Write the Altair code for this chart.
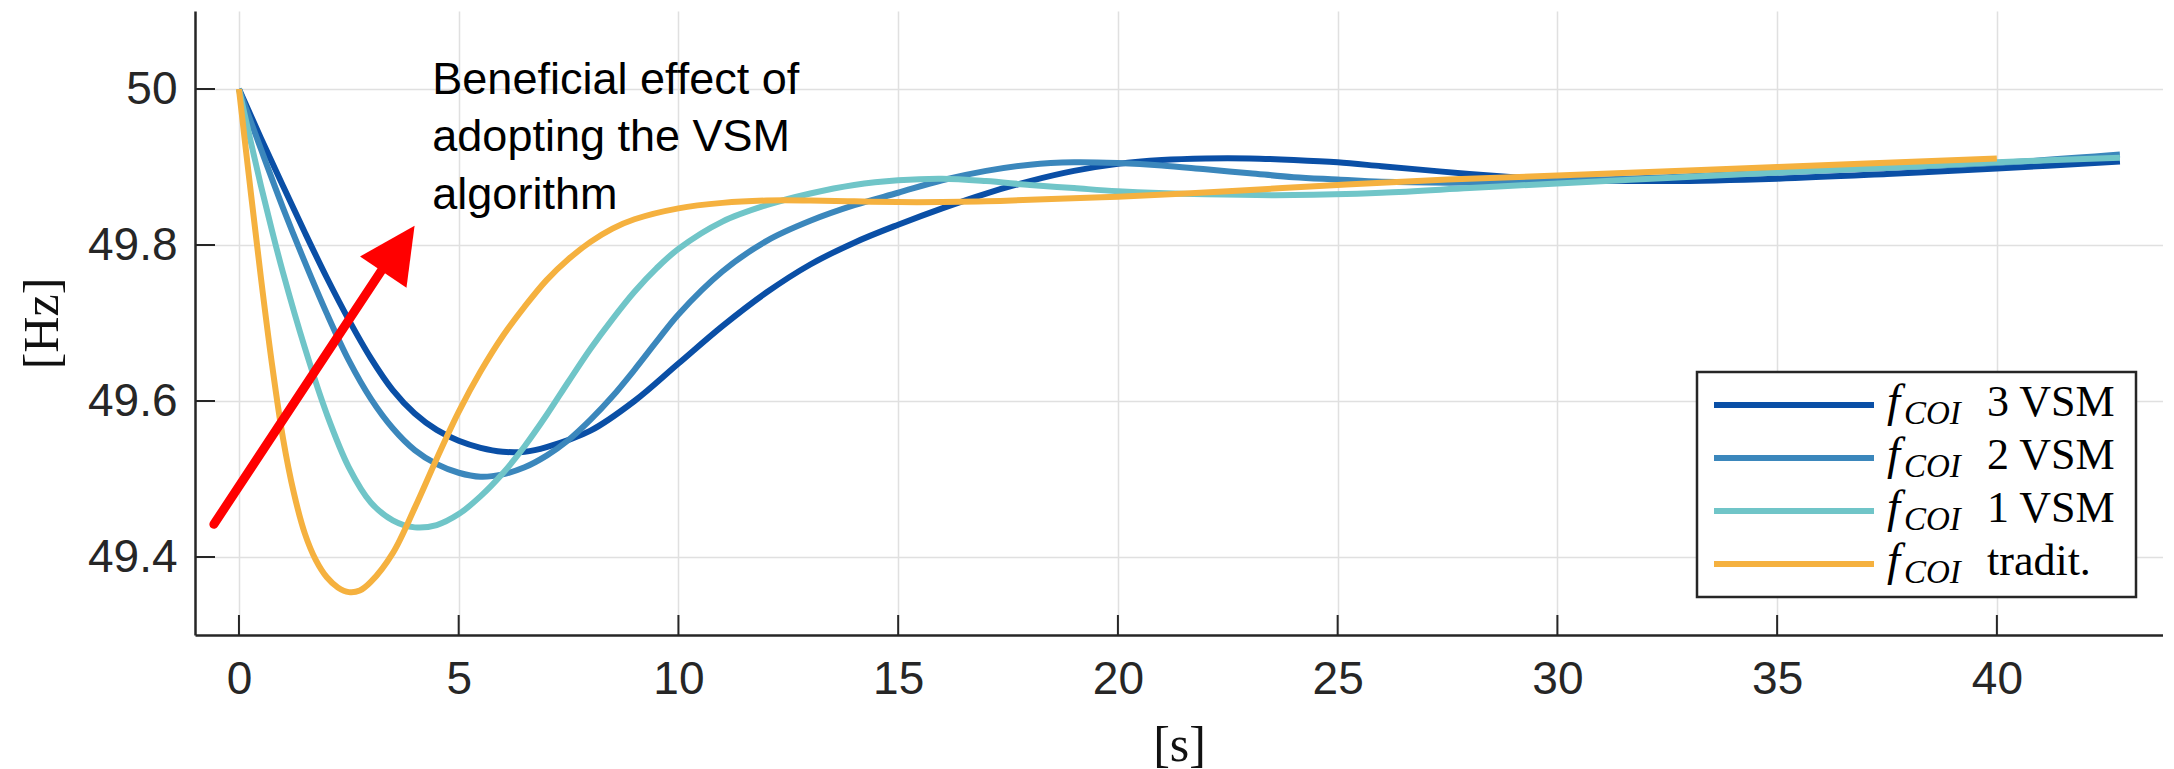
import altair as alt
import pandas as pd

# ---------------- data ----------------
series_names = ["3 VSM", "2 VSM", "1 VSM", "tradit."]
series_colors = ["#0a4fa6", "#3b87bc", "#70c5c8", "#f5b13f"]

t_3vsm = [0, 0.5, 1, 1.5, 2, 2.5, 3, 3.5, 4, 4.5, 5, 5.5, 6, 6.5, 7, 8, 9, 10, 11, 12, 13,
          14, 15, 16, 17, 18, 19, 20, 21, 22, 23, 24, 25, 26, 27, 28, 29, 30, 32.5, 35,
          37.5, 40, 42.8]
f_3vsm = [50.0, 49.937, 49.876, 49.816, 49.758, 49.704, 49.655, 49.614, 49.584, 49.563,
          49.549, 49.540, 49.535, 49.535, 49.541, 49.562, 49.600, 49.648, 49.696, 49.739,
          49.775, 49.803, 49.826, 49.847, 49.866, 49.882, 49.895, 49.904, 49.909, 49.911,
          49.911, 49.909, 49.906, 49.901, 49.896, 49.891, 49.887, 49.884, 49.882, 49.885,
          49.891, 49.898, 49.907]

t_2vsm = [0, 0.5, 1, 1.5, 2, 2.5, 3, 3.5, 4, 4.5, 5, 5.5, 6, 6.5, 7, 7.5, 8, 8.5, 9, 9.5,
          10, 11, 12, 13, 14, 15, 16, 17, 18, 19, 20, 21, 22, 23, 24, 25, 26, 28, 30, 32.5,
          35, 37.5, 40, 42.8]
f_2vsm = [50.0, 49.923, 49.848, 49.778, 49.712, 49.652, 49.603, 49.565, 49.537, 49.519,
          49.508, 49.503, 49.506, 49.515, 49.530, 49.550, 49.576, 49.606, 49.640, 49.676,
          49.711, 49.766, 49.805, 49.831, 49.851, 49.867, 49.883, 49.895, 49.903, 49.906,
          49.905, 49.902, 49.897, 49.892, 49.887, 49.884, 49.881, 49.880, 49.882, 49.887,
          49.893, 49.899, 49.905, 49.916]

t_1vsm = [0, 0.25, 0.5, 0.75, 1, 1.5, 2, 2.5, 3, 3.5, 4, 4.5, 5, 5.5, 6, 6.5, 7, 7.5, 8,
          8.5, 9, 9.5, 10, 11, 12, 13, 14, 15, 16, 17, 18, 19, 20, 22, 24, 26, 28, 30,
          32.5, 35, 37.5, 40, 42.8]
f_1vsm = [50.0, 49.937, 49.876, 49.819, 49.765, 49.668, 49.583, 49.515, 49.470, 49.447,
          49.438, 49.441, 49.455, 49.478, 49.507, 49.542, 49.582, 49.625, 49.667, 49.705,
          49.740, 49.770, 49.795, 49.830, 49.851, 49.866, 49.877, 49.883, 49.885, 49.882,
          49.877, 49.873, 49.869, 49.865, 49.864, 49.867, 49.873, 49.879, 49.886, 49.893,
          49.899, 49.906, 49.912]

t_trad = [0, 0.25, 0.5, 0.75, 1, 1.25, 1.5, 1.75, 2, 2.25, 2.5, 2.75, 3, 3.5, 4, 4.5, 5,
          5.5, 6, 6.5, 7, 7.5, 8, 8.5, 9, 10, 11, 12, 13, 14, 15, 16, 17, 18, 20, 22.5, 25,
          27.5, 30, 35, 40]
f_trad = [50.0, 49.877, 49.758, 49.648, 49.553, 49.482, 49.430, 49.396, 49.374, 49.361,
          49.355, 49.357, 49.368, 49.405, 49.463, 49.526, 49.586, 49.638, 49.683, 49.721,
          49.755, 49.782, 49.804, 49.821, 49.833, 49.847, 49.854, 49.857, 49.857, 49.856,
          49.855, 49.855, 49.856, 49.858, 49.862, 49.869, 49.877, 49.884, 49.889, 49.900,
          49.911]

series_t = [t_3vsm, t_2vsm, t_1vsm, t_trad]
series_f = [f_3vsm, f_2vsm, f_1vsm, f_trad]

x_ticks = [0, 5, 10, 15, 20, 25, 30, 35, 40]
y_ticks = [49.4, 49.6, 49.8, 50.0]

ann_lines = ["Beneficial effect of", "adopting the VSM", "algorithm"]
ann_x = [4.40]
ann_y = [49.994]

arrow_x = [-0.57, 3.45]
arrow_y = [49.442, 49.785]
arrowhead_x = [3.64]
arrowhead_y = [49.795]

legend_sub = "COI"

# ---------------- layout ----------------
W, H = 1968, 624
X_DOMAIN = [-1, 43.78]
Y_DOMAIN = [49.3, 50.1]
AX = "#262626"
GRID = "#e0e0e0"

xs = alt.Scale(domain=X_DOMAIN, nice=False, zero=False)
ys = alt.Scale(domain=Y_DOMAIN, nice=False, zero=False)

xaxis = alt.Axis(values=x_ticks, title="[s]", ticks=False, tickSize=0, grid=True,
                 gridColor=GRID, gridWidth=1.5, domainColor=AX, domainWidth=2.5,
                 labelFont="Liberation Sans", labelFontSize=46, labelColor=AX,
                 labelPadding=22, labelFlush=False, format="~g",
                 titleFont="Liberation Serif", titleFontSize=50, titleFontWeight="normal",
                 titleColor="#111111", titlePadding=18)
yaxis = alt.Axis(values=y_ticks, title="[Hz]", ticks=False, tickSize=0, grid=True,
                 gridColor=GRID, gridWidth=1.5, domainColor=AX, domainWidth=2.5,
                 labelFont="Liberation Sans", labelFontSize=46, labelColor=AX,
                 labelPadding=18, labelFlush=False, format="~g",
                 titleFont="Liberation Serif", titleFontSize=50, titleFontWeight="normal",
                 titleColor="#111111", titlePadding=20)

layers = []

# inward ticks
layers.append(
    alt.Chart(pd.DataFrame({"v": x_ticks})).mark_rule(color=AX, strokeWidth=2).encode(
        x=alt.X("v:Q", scale=xs, axis=xaxis), y=alt.value(H), y2=alt.value(H - 20))
)
layers.append(
    alt.Chart(pd.DataFrame({"v": y_ticks})).mark_rule(color=AX, strokeWidth=2).encode(
        y=alt.Y("v:Q", scale=ys, axis=yaxis), x=alt.value(0), x2=alt.value(20))
)

# curves
for name, col, tt, ff in zip(series_names, series_colors, series_t, series_f):
    df = pd.DataFrame({"t": tt, "f": ff, "s": name})
    layers.append(
        alt.Chart(df).mark_line(color=col, strokeWidth=6, interpolate="catmull-rom",
                                strokeCap="butt").encode(
            x=alt.X("t:Q", scale=xs, axis=xaxis),
            y=alt.Y("f:Q", scale=ys, axis=yaxis),
            order="t:Q")
    )

# red arrow
arrow_df = pd.DataFrame({"x0": [arrow_x[0]], "y0": [arrow_y[0]],
                         "x1": [arrow_x[1]], "y1": [arrow_y[1]]})
layers.append(
    alt.Chart(arrow_df).mark_rule(color="#ff0000", strokeWidth=9, strokeCap="round").encode(
        x=alt.X("x0:Q", scale=xs, axis=xaxis), y=alt.Y("y0:Q", scale=ys, axis=yaxis),
        x2="x1:Q", y2="y1:Q")
)
layers.append(
    alt.Chart(pd.DataFrame({"x": arrowhead_x, "y": arrowhead_y})).mark_point(
        shape="M0,-1L-1,1L1,1Z", filled=True, size=3136, angle=34, color="#ff0000",
        opacity=1, strokeWidth=0).encode(
        x=alt.X("x:Q", scale=xs, axis=xaxis), y=alt.Y("y:Q", scale=ys, axis=yaxis))
)

# annotation text
layers.append(
    alt.Chart(pd.DataFrame({"x": ann_x, "y": ann_y})).mark_text(
        font="Liberation Sans", fontSize=45, color="#000000", align="left",
        baseline="alphabetic", lineHeight=57.5).encode(
        x=alt.X("x:Q", scale=xs, axis=xaxis), y=alt.Y("y:Q", scale=ys, axis=yaxis),
        text=alt.value(ann_lines))
)

# custom legend (inside, bottom right)
LX0, LX1, LY0, LY1 = 1502, 1941, 361, 586
row_y = [394, 447, 500, 553]
layers.append(
    alt.Chart(pd.DataFrame({"k": [0]})).mark_rect(fill="white", stroke=AX, strokeWidth=2.5).encode(
        x=alt.value(LX0), x2=alt.value(LX1), y=alt.value(LY0), y2=alt.value(LY1))
)
for name, col, ry in zip(series_names, series_colors, row_y):
    d = pd.DataFrame({"lab": [name], "f": ["f"], "sub": [legend_sub]})
    layers.append(
        alt.Chart(d).mark_rule(color=col, strokeWidth=6).encode(
            x=alt.value(1519), x2=alt.value(1679), y=alt.value(ry))
    )
    layers.append(
        alt.Chart(d).mark_text(font="Liberation Serif", fontStyle="italic", fontSize=47,
                               color="#000000", align="left", baseline="alphabetic").encode(
            x=alt.value(1692), y=alt.value(ry + 11), text="f:N")
    )
    layers.append(
        alt.Chart(d).mark_text(font="Liberation Serif", fontStyle="italic", fontSize=33,
                               color="#000000", align="left", baseline="alphabetic").encode(
            x=alt.value(1709), y=alt.value(ry + 19), text="sub:N")
    )
    layers.append(
        alt.Chart(d).mark_text(font="Liberation Serif", fontSize=44,
                               color="#000000", align="left", baseline="alphabetic").encode(
            x=alt.value(1792), y=alt.value(ry + 11), text="lab:N")
    )

chart = alt.layer(*layers).properties(
    width=W, height=H, padding={"left": 9, "top": 3, "right": 0, "bottom": 0},
    background="white"
).configure_view(stroke=None)

chart.save("out.html", embed_options={"renderer": "svg", "actions": False})
